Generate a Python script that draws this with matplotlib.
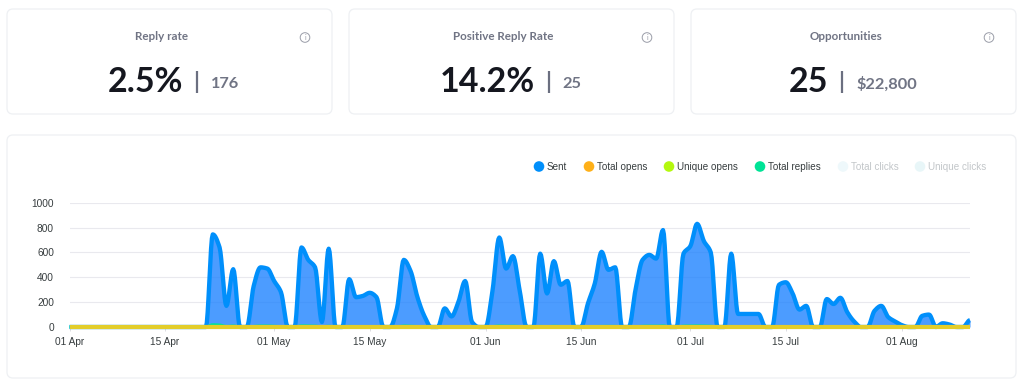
import numpy as np
import pandas as pd
import matplotlib
matplotlib.use('Agg')
import matplotlib.pyplot as plt
from matplotlib.patches import FancyBboxPatch, Circle

# Daily values from 01 Apr
start_date = '2024-04-01'
sent = [0] * 21 + [
    745, 640, 170, 465, 0, 0, 330, 480, 470, 370, 280, 0, 0, 640, 540, 480, 40, 630, 0,
    0, 385, 240, 250, 275, 240, 0, 0, 150, 540, 450, 240, 90, 0, 0, 150, 85, 200, 370, 40,
    0, 0, 290, 720, 470, 570, 290, 0, 0, 590, 270, 530, 340, 370, 0, 0, 190, 350, 605, 460,
    480, 0, 0, 310, 540, 580, 550, 780, 0, 0, 590, 650, 830, 690, 600, 0, 0, 590, 105, 105,
    105, 105, 0, 0, 340, 360, 270, 140, 170, 0, 0, 225, 185, 235, 120, 45, 0, 0, 130, 170,
    80, 45, 15, 0, 0, 90, 100, 0, 30, 20, 0, 0, 55,
]
total_opens = [0] * len(sent)
unique_opens = [0] * len(sent)
total_replies = [0] * 21 + [
    18, 16, 4, 8, 0, 0, 5, 8, 8, 6, 4, 0, 0, 9, 8, 7, 1, 6, 0,
    0, 5, 3, 3, 4, 3, 0, 0, 2, 8, 6, 3, 1, 0, 0, 2, 1, 2, 4, 1,
    0, 0, 3, 8, 6, 7, 3, 0, 0, 5, 3, 6, 4, 4, 0, 0, 3, 4, 6, 5,
    5, 0, 0, 3, 6, 7, 6, 9, 0, 0, 7, 8, 9, 8, 6, 0, 0, 5, 1, 1,
    1, 1, 0, 0, 4, 4, 3, 1, 2, 0, 0, 2, 2, 2, 1, 1, 0, 0, 1, 2,
    1, 1, 0, 0, 0, 1, 1, 0, 0, 0, 0, 0, 1,
]

card_titles = ['Reply rate', 'Positive Reply Rate', 'Opportunities']
card_values = ['2.5%', '14.2%', '25']
card_subvalues = ['176', '25', '$22,800']

legend_names = ['Sent', 'Total opens', 'Unique opens', 'Total replies', 'Total clicks', 'Unique clicks']
legend_colors = ['#008ffb', '#feb019', '#b4f80f', '#00e396', '#eef8fb', '#e8f6f8']
yticks = [0, 200, 400, 600, 800, 1000]
xtick_days = [0, 14, 30, 44, 61, 75, 91, 105, 122]
xtick_labels = ['01 Apr', '15 Apr', '01 May', '15 May', '01 Jun', '15 Jun', '01 Jul', '15 Jul', '01 Aug']

W, H = 1024, 390
CARD_FONT = ['Lato', 'DejaVu Sans']
CHART_FONT = ['Liberation Sans', 'DejaVu Sans']


# Monotone curve through the daily values, only for drawing the smooth line
def smooth(y, per_day=8):
    y = np.asarray(y, dtype=float)
    x = np.arange(len(y))
    d = np.diff(y)
    m = np.zeros(len(y))
    for i in range(1, len(y) - 1):
        if d[i - 1] * d[i] > 0:
            m[i] = 2 * d[i - 1] * d[i] / (d[i - 1] + d[i])
    xs = np.linspace(0, len(y) - 1, (len(y) - 1) * per_day + 1)
    i = np.minimum(xs.astype(int), len(y) - 2)
    t = xs - x[i]
    ys = ((2 * t**3 - 3 * t**2 + 1) * y[i] + (t**3 - 2 * t**2 + t) * m[i]
          + (-2 * t**3 + 3 * t**2) * y[i + 1] + (t**3 - t**2) * m[i + 1])
    return xs, ys


def draw_card(ax, x0, y0, x1, y1):
    ax.add_patch(FancyBboxPatch((x0 + 4, y0 + 4), x1 - x0 - 8, y1 - y0 - 8,
                                boxstyle='round,pad=4,rounding_size=6',
                                fc='white', ec='#eef0f3', lw=0.9))


fig = plt.figure(figsize=(W / 100, H / 100), dpi=100, facecolor='white')

# Background layer in pixel coordinates for the cards
bg = fig.add_axes([0, 0, 1, 1])
bg.set_xlim(0, W)
bg.set_ylim(H, 0)
bg.axis('off')

card_left = [7, 349, 691]
for i, left in enumerate(card_left):
    draw_card(bg, left, 9, left + 325, 114)
    mid = left + 154.5
    bg.text(mid, 37, card_titles[i], ha='center', va='center', fontsize=8.4,
            fontweight='bold', color='#707484', family=CARD_FONT)
    bg.add_patch(Circle((left + 298, 37.5), 4.8, fc='white', ec='#9a9da8', lw=0.7))
    bg.text(left + 298, 37.5, 'i', ha='center', va='center', fontsize=5, color='#9a9da8', family=CARD_FONT)

value_x = [183, 535, 828]
sep_x = [197, 549, 842]
sub_x = [211, 562, 856]
for i in range(3):
    bg.text(value_x[i], 92.5, card_values[i], ha='right', va='baseline', fontsize=24.5,
            fontweight='bold', color='#15171f', family=CARD_FONT)
    bg.plot([sep_x[i], sep_x[i]], [71, 93], color='#6b6f80', lw=1.6, solid_capstyle='butt')
    bg.text(sub_x[i], 88.5, card_subvalues[i], ha='left', va='baseline', fontsize=11.8,
            fontweight='bold', color='#707484', family=CARD_FONT)

draw_card(bg, 7, 135, 1016, 378)

# Legend
legend_dot_x = [539, 589, 669, 760, 843, 920]
for i, name in enumerate(legend_names):
    bg.add_patch(Circle((legend_dot_x[i], 166.5), 5.3, fc=legend_colors[i], ec='none'))
    bg.text(legend_dot_x[i] + 8, 166.5, name, ha='left', va='center', fontsize=7.1,
            color='#373d3f' if i < 4 else '#c2c6c9', family=CHART_FONT)

# Chart
ax = fig.add_axes([69.5 / W, 1 - 327 / H, (970 - 69.5) / W, (327 - 202.7) / H])
ax.patch.set_alpha(0)
days = np.arange(len(sent))
xs, ys = smooth(sent)
ax.fill_between(xs, 0, ys, color='#1a80ff', alpha=0.78, lw=0)
ax.plot(xs, ys, color='#008ffb', lw=3.1, solid_joinstyle='round', solid_capstyle='butt', clip_on=False)
xr, yr = smooth(total_replies)
ax.plot(xr, yr, color='#00e396', lw=2.2, clip_on=False, solid_capstyle='butt')
ax.plot(days, total_opens, color='#e9c92e', lw=3.0, clip_on=False, solid_capstyle='butt')
ax.plot(days, unique_opens, color='#b4f80f', lw=3.0, alpha=0.1, clip_on=False, solid_capstyle='butt')

ax.set_xlim(0, 132)
ax.set_ylim(0, 1000)
ax.set_yticks(yticks)
ax.set_xticks(xtick_days)
ax.set_xticklabels(xtick_labels)
ax.grid(axis='y', color='#e9e9ee', lw=0.8)
ax.set_axisbelow(True)
for s in ax.spines.values():
    s.set_visible(False)
ax.tick_params(axis='y', length=0, pad=11.2, labelsize=7.3, labelcolor='#373d3f')
ax.tick_params(axis='x', length=3, width=0.6, color='#d8d8de', pad=4.5, labelsize=7.3, labelcolor='#373d3f')
for label in ax.get_xticklabels() + ax.get_yticklabels():
    label.set_family(CHART_FONT)

fig.savefig('out.png', dpi=100, facecolor='white')
